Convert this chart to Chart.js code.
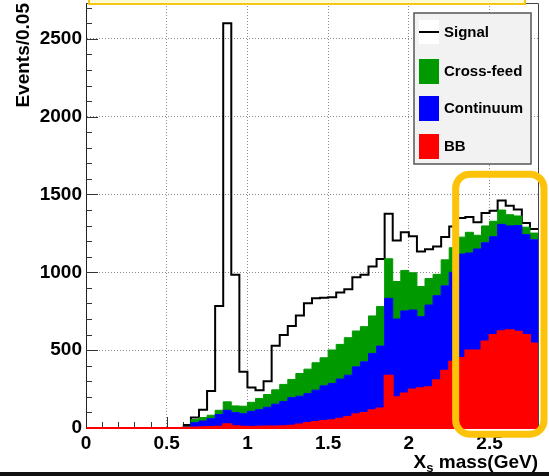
<!DOCTYPE html>
<html>
<head>
<meta charset="utf-8">
<script src="https://cdn.jsdelivr.net/npm/chart.js@4.4.1/dist/chart.umd.min.js"></script>
<style>
    html, body { margin: 0; padding: 0; background: #fff; }
    #wrap { width: 549px; height: 476px; }
</style>
</head>
<body>
<div id="wrap"><canvas id="massChart" width="549" height="476"></canvas></div>
<script>
// X_s mass histogram, 56 bins of 0.05 GeV
const binEdges = [0, 0.05, 0.1, 0.15, 0.2, 0.25, 0.3, 0.35, 0.4, 0.45, 0.5, 0.55, 0.6, 0.65, 0.7, 0.75, 0.8, 0.85, 0.9, 0.95,
    1, 1.05, 1.1, 1.15, 1.2, 1.25, 1.3, 1.35, 1.4, 1.45, 1.5, 1.55, 1.6, 1.65, 1.7, 1.75, 1.8, 1.85, 1.9, 1.95,
    2, 2.05, 2.1, 2.15, 2.2, 2.25, 2.3, 2.35, 2.4, 2.45, 2.5, 2.55, 2.6, 2.65, 2.7, 2.75, 2.8];

const bbEvents = [0, 0, 0, 0, 0, 0, 0, 0, 0, 0, 0, 0,
    2, 4, 5, 6, 8, 24, 12, 8, 7, 8,
    9, 10, 12, 15, 22, 32, 39, 45, 49, 60,
    71, 88, 97, 114, 125, 335, 198, 222, 248, 255,
    262, 307, 367, 425, 450, 498, 498, 556, 598, 622,
    628, 619, 597, 543];
const continuumEvents = [0, 0, 0, 0, 0, 0, 0, 0, 0, 0, 0, 0,
    4, 30, 40, 54, 78, 90, 87, 84, 100, 110,
    124, 143, 158, 180, 182, 189, 204, 226, 237, 254,
    268, 305, 328, 365, 401, 498, 502, 530, 510, 460,
    528, 543, 546, 575, 667, 626, 652, 634, 631, 686,
    670, 681, 645, 666];
const crossFeedEvents = [0, 0, 0, 0, 0, 0, 0, 0, 0, 0, 0, 0,
    4, 20, 22, 22, 28, 54, 43, 48, 58, 72,
    82, 92, 110, 117, 146, 157, 176, 180, 215, 223,
    241, 230, 226, 241, 254, 254, 241, 260, 239, 194,
    170, 137, 167, 158, 109, 133, 88, 108, 99, 92,
    72, 62, 48, 43];
const signalEvents = [0, 0, 0, 0, 0, 0, 0, 0, 0, 0, 0, 0,
    10, 13, 51, 156, 670, 2432, 842, 221, 95, 53,
    86, 283, 317, 343, 373, 423, 414, 385, 339, 333,
    311, 346, 333, 317, 305, 290, 264, 245, 234, 225,
    189, 179, 147, 137, 123, 98, 83, 83, 68, 61,
    58, 41, 27, 26];

const xTickValues = [0, 0.5, 1, 1.5, 2, 2.5];
const yTickValues = [0, 500, 1000, 1500, 2000, 2500];
const seriesNames = ['BB', 'Continuum', 'Cross-feed', 'Signal'];

const FONT = '"Liberation Sans", Arial, Helvetica, sans-serif';
Chart.defaults.font.family = FONT;
Chart.defaults.color = '#000';

// step histogram: one point per low edge plus the last upper edge
function steps(values, hideEmpty) {
    const pts = values.map((v, i) => {
        const total = bbEvents[i] + continuumEvents[i] + crossFeedEvents[i] + signalEvents[i];
        return { x: binEdges[i], y: (hideEmpty && total === 0) ? null : v };
    });
    pts.push({ x: binEdges[values.length], y: values[values.length - 1] });
    return pts;
}

const decorPlugin = {
    id: 'decor',
    beforeDatasetsDraw(chart) {
        // ROOT style inward ticks
        const { ctx, chartArea: a, scales: { x, y } } = chart;
        ctx.save();
        ctx.strokeStyle = '#333';
        ctx.lineWidth = 1;
        ctx.beginPath();
        for (let v = 100; v < y.max; v += 100) {
            const py = Math.round(y.getPixelForValue(v)) + 0.5;
            const len = v % 500 === 0 ? 12 : 6;
            ctx.moveTo(a.left, py);
            ctx.lineTo(a.left + len, py);
        }
        for (let k = 1; k < 28; k++) {
            const px = Math.round(x.getPixelForValue(k / 10)) + 0.5;
            const len = k % 5 === 0 ? 11 : 6;
            ctx.moveTo(px, a.bottom);
            ctx.lineTo(px, a.bottom - len);
        }
        ctx.stroke();
        ctx.restore();
    },
    afterDatasetsDraw(chart) {
        const { ctx, chartArea: a } = chart;
        ctx.save();
        // frame top / right
        ctx.strokeStyle = '#444';
        ctx.lineWidth = 1;
        ctx.beginPath();
        ctx.moveTo(a.left, a.top + 0.5);
        ctx.lineTo(a.right + 0.5, a.top + 0.5);
        ctx.lineTo(a.right + 0.5, a.bottom);
        ctx.stroke();

        // legend box
        const lx = a.right - 124, ly = a.top + 10, lw = 117, lh = 151;
        ctx.fillStyle = '#f2f2f2';
        ctx.fillRect(lx, ly, lw, lh);
        ctx.strokeStyle = '#555';
        ctx.lineWidth = 1.5;
        ctx.strokeRect(lx, ly, lw, lh);
        const rows = [29, 68, 105, 143];
        const order = chart.data.datasets.slice().reverse();
        ctx.font = 'bold 15px ' + FONT;
        ctx.textBaseline = 'middle';
        order.forEach((ds, i) => {
            const ry = a.top + rows[i];
            if (ds.label === 'Signal') {
                ctx.fillStyle = '#fff';
                ctx.fillRect(lx + 5, ry - 12, 20, 24);
                ctx.strokeStyle = '#000';
                ctx.lineWidth = 2;
                ctx.beginPath();
                ctx.moveTo(lx + 5, ry);
                ctx.lineTo(lx + 25, ry);
                ctx.stroke();
            } else {
                ctx.fillStyle = ds.backgroundColor;
                ctx.fillRect(lx + 5, ry - 12, 20, 25);
            }
            ctx.fillStyle = '#000';
            ctx.fillText(ds.label, lx + 30, ry + 1);
        });
        ctx.restore();
    },
    afterDraw(chart) {
        const { ctx, chartArea: a, scales: { x, y } } = chart;
        ctx.save();
        // x axis title with subscript
        const main = 'bold 19px ' + FONT, small = 'bold 13px ' + FONT;
        ctx.font = main;
        const wX = ctx.measureText('X').width;
        const rest = ' mass(GeV)';
        const wRest = ctx.measureText(rest).width;
        ctx.font = small;
        const wS = ctx.measureText('s').width;
        let tx = a.right - (wX + wS + wRest);
        ctx.fillStyle = '#000';
        ctx.textBaseline = 'alphabetic';
        ctx.font = main;
        ctx.fillText('X', tx, 468);
        ctx.font = small;
        ctx.fillText('s', tx + wX, 472);
        ctx.font = main;
        ctx.fillText(rest, tx + wX + wS, 468);

        // highlight boxes
        ctx.fillStyle = '#fffbd2';
        ctx.strokeStyle = '#f5c518';
        ctx.lineWidth = 2;
        ctx.fillRect(89, -4, 436, 8);
        ctx.strokeRect(89, -4, 436, 8);

        const bx0 = x.getPixelForValue(2.29), bx1 = a.right + 6;
        const by0 = y.getPixelForValue(1630), by1 = y.getPixelForValue(-40);
        const r = 14;
        ctx.strokeStyle = '#fcc30a';
        ctx.lineWidth = 7;
        ctx.beginPath();
        ctx.moveTo(bx0 + r, by0);
        ctx.lineTo(bx1 - r, by0);
        ctx.arcTo(bx1, by0, bx1, by0 + r, r);
        ctx.lineTo(bx1, by1 - r);
        ctx.arcTo(bx1, by1, bx1 - r, by1, r);
        ctx.lineTo(bx0 + r, by1);
        ctx.arcTo(bx0, by1, bx0, by1 - r, r);
        ctx.lineTo(bx0, by0 + r);
        ctx.arcTo(bx0, by0, bx0 + r, by0, r);
        ctx.closePath();
        ctx.stroke();

        // bottom bar
        ctx.fillStyle = '#111';
        ctx.fillRect(0, 472, chart.width, 4);
        ctx.restore();
    }
};

const ctx = document.getElementById('massChart').getContext('2d');
new Chart(ctx, {
    type: 'line',
    data: {
        datasets: [
            {
                label: seriesNames[0],
                data: steps(bbEvents),
                borderColor: '#ff0000',
                backgroundColor: '#ff0000',
                borderWidth: 2,
                fill: 'origin'
            },
            {
                label: seriesNames[1],
                data: steps(continuumEvents),
                borderColor: '#0000ff',
                backgroundColor: '#0000ff',
                borderWidth: 1,
                fill: '-1'
            },
            {
                label: seriesNames[2],
                data: steps(crossFeedEvents),
                borderColor: '#009a00',
                backgroundColor: '#009a00',
                borderWidth: 1,
                fill: '-1'
            },
            {
                label: seriesNames[3],
                data: steps(signalEvents, true),
                borderColor: '#000000',
                backgroundColor: '#ffffff',
                borderWidth: 2,
                fill: false
            }
        ]
    },
    options: {
        responsive: false,
        animation: false,
        events: [],
        elements: {
            point: { radius: 0 },
            line: { stepped: true, tension: 0 }
        },
        layout: { padding: { top: 3, right: 11, left: 0, bottom: 0 } },
        plugins: {
            legend: { display: false },
            tooltip: { enabled: false }
        },
        scales: {
            x: {
                type: 'linear',
                min: 0,
                max: 2.8,
                afterBuildTicks: scale => { scale.ticks = xTickValues.map(v => ({ value: v })); },
                afterFit: scale => {
                    scale.height = 48;
                    scale.paddingLeft = 0;
                    scale.paddingRight = 0;
                },
                ticks: {
                    autoSkip: false,
                    maxRotation: 0,
                    padding: 4,
                    color: '#000',
                    font: { size: 19, weight: 'bold' },
                    callback: v => String(+v.toFixed(2))
                },
                grid: {
                    drawTicks: false,
                    color: c => (c.tick && c.tick.value === 0) ? 'rgba(0,0,0,0)' : '#8a8a8a'
                },
                border: { color: '#ff0000', width: 1, dash: [1, 2] }
            },
            y: {
                type: 'linear',
                stacked: true,
                min: 0,
                max: 2730,
                afterBuildTicks: scale => { scale.ticks = yTickValues.map(v => ({ value: v })); },
                afterFit: scale => {
                    scale.width = 86;
                    scale.paddingTop = 0;
                    scale.paddingBottom = 0;
                },
                ticks: {
                    padding: 4,
                    color: '#000',
                    font: { size: 19, weight: 'bold' },
                    callback: v => String(v)
                },
                grid: {
                    drawTicks: false,
                    color: c => (c.tick && c.tick.value === 0) ? 'rgba(0,0,0,0)' : '#8a8a8a'
                },
                border: { color: '#222', width: 1, dash: [1, 2] },
                title: {
                    display: true,
                    text: 'Events/0.05',
                    align: 'end',
                    color: '#000',
                    font: { size: 19, weight: 'bold' },
                    padding: { top: 12, bottom: 0 }
                }
            }
        }
    },
    plugins: [decorPlugin]
});
</script>
</body>
</html>
